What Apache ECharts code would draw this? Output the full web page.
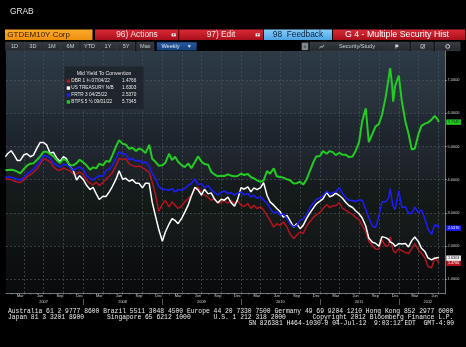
<!DOCTYPE html>
<html><head><meta charset="utf-8">
<script src="https://cdn.jsdelivr.net/npm/echarts@6/dist/echarts.min.js"></script>
<style>html,body{margin:0;padding:0;background:#000;}#c{width:466px;height:347px;}</style>
</head><body><div id="c"></div>
<script>
// ---------------- DATA ----------------
const dates = [
'2007-01-05',
'2007-01-15','2007-02-01','2007-02-15','2007-03-01','2007-03-15','2007-04-01','2007-04-15','2007-05-01','2007-05-15','2007-06-01','2007-06-15','2007-07-01','2007-07-15','2007-08-01','2007-08-15','2007-09-01','2007-09-15','2007-10-01','2007-10-15','2007-11-01','2007-11-15','2007-12-01','2007-12-15','2008-01-01',
'2008-01-15','2008-02-01','2008-02-15','2008-03-01','2008-03-15','2008-04-01','2008-04-15','2008-05-01','2008-05-15','2008-06-01','2008-06-15','2008-07-01','2008-07-15','2008-08-01','2008-08-15','2008-09-01','2008-09-15','2008-10-01','2008-10-15','2008-11-01','2008-11-15','2008-12-01','2008-12-15','2009-01-01',
'2009-01-15','2009-02-01','2009-02-15','2009-03-01','2009-03-15','2009-04-01','2009-04-15','2009-05-01','2009-05-15','2009-06-01','2009-06-15','2009-07-01','2009-07-15','2009-08-01','2009-08-15','2009-09-01','2009-09-15','2009-10-01','2009-10-15','2009-11-01','2009-11-15','2009-12-01','2009-12-15','2010-01-01',
'2010-01-15','2010-02-01','2010-02-15','2010-03-01','2010-03-15','2010-04-01','2010-04-15','2010-05-01','2010-05-15','2010-06-01','2010-06-15','2010-07-01','2010-07-15','2010-08-01','2010-08-15','2010-09-01','2010-09-15','2010-10-01','2010-10-15','2010-11-01','2010-11-15','2010-12-01','2010-12-15','2011-01-01',
'2011-01-15','2011-02-01','2011-02-15','2011-03-01','2011-03-15','2011-04-01','2011-04-15','2011-05-01','2011-05-15','2011-06-01','2011-06-15','2011-07-01','2011-07-15','2011-08-01','2011-08-15','2011-09-01','2011-09-15','2011-10-01','2011-10-15','2011-11-01','2011-11-15','2011-11-22','2011-12-01','2011-12-06','2011-12-15','2012-01-01',
'2012-01-15','2012-02-01','2012-02-15','2012-03-01','2012-03-15','2012-04-01','2012-04-15','2012-05-01','2012-05-15','2012-06-01','2012-06-15','2012-07-01','2012-07-04'
];
const dbr = [4.03,
4.02,4.00,3.96,3.93,3.91,4.00,4.09,4.15,4.22,4.33,4.47,4.64,4.60,4.54,4.39,4.30,4.28,4.35,4.31,4.26,4.16,4.17,4.23,4.15,
3.99,3.89,3.84,3.92,3.82,3.91,4.01,4.11,4.21,4.43,4.64,4.61,4.63,4.47,4.43,4.39,4.41,4.36,4.30,4.22,3.93,3.53,3.04,3.26,
3.37,3.18,3.33,3.23,3.13,3.21,3.33,3.43,3.53,3.72,3.77,3.61,3.53,3.47,3.38,3.42,3.29,3.32,3.36,3.29,3.38,3.28,3.36,3.23,
3.19,3.28,3.13,3.23,3.13,3.18,3.08,2.92,2.77,2.57,2.67,2.62,2.72,2.57,2.37,2.22,2.32,2.42,2.37,2.61,2.73,2.86,2.94,3.01,
3.12,3.25,3.16,3.21,3.21,3.31,3.14,3.07,3.01,2.95,2.86,2.79,2.63,2.42,2.14,2.00,1.91,1.90,2.18,1.99,2.02,2.27,2.00,1.87,1.79,1.91,
1.86,1.80,1.77,1.92,2.07,1.88,1.78,1.64,1.38,1.34,1.64,1.52,1.4766];
const ust = [4.69,
4.78,4.87,4.74,4.58,4.58,4.75,4.78,4.69,4.74,4.96,5.12,5.12,5.05,4.79,4.83,4.64,4.55,4.69,4.63,4.39,4.28,3.99,4.12,4.00,
3.84,3.70,3.77,3.57,3.40,3.50,3.49,3.64,3.80,4.02,4.27,4.01,4.04,3.95,4.00,3.89,3.89,3.75,3.89,3.89,3.32,2.88,2.51,2.14,
2.42,2.66,2.82,2.77,2.67,2.84,3.02,3.24,3.50,3.77,3.69,3.53,3.71,3.57,3.60,3.40,3.30,3.41,3.38,3.47,3.31,3.20,3.39,3.76,
3.71,3.78,3.63,3.75,3.70,3.76,3.91,3.52,3.33,3.23,3.13,3.03,2.87,2.92,2.77,2.57,2.67,2.52,2.62,2.84,2.99,3.14,3.27,3.35,
3.42,3.62,3.48,3.52,3.59,3.52,3.44,3.31,3.22,3.16,3.06,2.97,2.85,2.60,2.24,2.11,2.08,1.99,2.28,2.25,2.20,2.12,2.16,2.07,1.99,2.07,
2.06,2.07,1.97,2.16,2.27,2.13,1.93,1.83,1.64,1.58,1.63,1.65,1.6303];
const frtr = [4.08,
4.08,4.07,4.04,4.01,3.98,4.07,4.17,4.24,4.32,4.44,4.57,4.74,4.70,4.64,4.50,4.43,4.38,4.46,4.45,4.38,4.28,4.34,4.38,4.30,
4.13,4.04,3.98,4.07,4.12,4.10,4.27,4.32,4.43,4.66,4.84,4.77,4.77,4.60,4.63,4.56,4.58,4.51,4.53,4.40,4.19,4.02,3.80,3.70,
3.70,3.68,3.73,3.63,3.70,3.68,3.73,3.83,3.88,4.02,3.85,3.88,3.75,3.82,3.70,3.60,3.54,3.62,3.66,3.58,3.61,3.53,3.59,3.63,
3.54,3.58,3.48,3.53,3.44,3.48,3.38,3.29,3.13,2.99,3.03,2.93,2.98,2.82,2.67,2.57,2.62,2.77,2.81,2.96,3.15,3.29,3.40,3.45,
3.52,3.65,3.57,3.61,3.63,3.76,3.59,3.45,3.38,3.37,3.34,3.39,3.38,3.11,2.85,2.60,2.55,2.90,3.33,3.33,3.45,3.73,3.36,3.18,3.10,3.66,
3.17,3.18,2.98,2.99,3.17,3.00,3.09,2.81,2.51,2.35,2.63,2.61,2.537];
const btps = [4.28,
4.29,4.30,4.28,4.24,4.19,4.32,4.42,4.48,4.49,4.60,4.70,4.84,4.84,4.77,4.71,4.58,4.50,4.63,4.57,4.44,4.43,4.50,4.60,4.52,
4.44,4.30,4.37,4.34,4.48,4.43,4.56,4.54,4.74,5.01,5.19,5.08,5.06,4.93,4.96,4.86,4.94,4.89,4.80,5.05,4.63,4.53,4.42,4.43,
4.51,4.78,4.59,4.69,4.54,4.43,4.38,4.49,4.34,4.53,4.70,4.55,4.47,4.45,4.24,4.15,4.10,4.12,4.11,4.16,4.12,4.10,4.11,4.18,
4.14,4.17,4.08,4.04,3.98,3.93,3.98,4.26,4.18,4.34,4.10,4.08,4.06,4.01,3.98,3.88,3.89,3.94,3.85,4.02,4.26,4.52,4.70,4.71,
4.86,4.78,4.86,4.83,4.74,4.81,4.75,4.75,4.68,4.70,4.86,5.13,5.75,6.15,5.13,5.39,5.60,5.68,5.95,6.48,7.06,7.36,6.85,6.35,6.83,7.14,
6.37,5.74,5.39,4.91,4.93,5.37,5.62,5.69,5.72,5.81,5.92,5.80,5.7345];

const seriesNames = ['DBR 1 \u00BE 07/04/22','US TREASURY N/B','FRTR 3 04/25/22','BTPS 5 \u00BD 09/01/22'];
const lastValues = ['1.4766','1.6303','2.5370','5.7345'];
const legendTitle = 'Mid Yield To Convention';
const yTicks = [1,2,3,4,5,6,7];
const monthNames = ['Jan','Feb','Mar','Apr','May','Jun','Jul','Aug','Sep','Oct','Nov','Dec'];
const yearLabelDates = ['2007-07-01','2008-07-01','2009-07-01','2010-07-01','2011-07-01','2012-05-15'];
const yearSepDates = ['2008-01-01','2009-01-01','2010-01-01','2011-01-01','2012-01-01'];

// ---------------- HELPERS ----------------
function ts(s){const p=s.split('-').map(Number);return new Date(p[0],p[1]-1,p[2]).getTime();}
const xMin = ts('2007-01-08'), xMax = ts('2012-08-02');
const monthTickTs=[], gridLineTs=[], monthLabelTs=[];
for(let y=2007;y<=2012;y++){for(let m=0;m<12;m++){
  const t1=new Date(y,m,1).getTime(), t15=new Date(y,m,15).getTime();
  if(t1>xMin&&t1<xMax){monthTickTs.push(t1); if(m%3===0) gridLineTs.push(t1);}
  if(t15>xMin&&t15<xMax&&m%3===2) monthLabelTs.push(t15);
}}
const colors = ['#b3141f','#ffffff','#1c1cff','#22cc22'];
const widths = [1.5,1.5,1.5,2];
const seriesData = [dbr,ust,frtr,btps];

const chart = echarts.init(document.getElementById('c'),null,{renderer:'canvas'});
const FONT = '"Liberation Sans", Arial, sans-serif';
const gridLine = {color:'#48525c',width:0.7,type:[2,2]};
const option = {
  backgroundColor:'#000',
  animation:false,
  grid:{left:6,right:21,top:51,bottom:54,show:true,borderWidth:0,
    backgroundColor:new echarts.graphic.LinearGradient(0,0,0,1,[
      {offset:0,color:'#2d3b47'},{offset:0.14,color:'#27333d'},{offset:0.32,color:'#1f272f'},
      {offset:0.5,color:'#181d23'},{offset:0.62,color:'#131a17'},{offset:0.78,color:'#0f1213'},{offset:1,color:'#0a0b0d'}])},
  xAxis:[
    {type:'value',min:xMin,max:xMax,position:'bottom',
     axisLine:{show:true,lineStyle:{color:'#8c939b',width:0.8}},
     axisTick:{show:false,customValues:gridLineTs},
     axisLabel:{customValues:monthLabelTs,formatter:v=>monthNames[new Date(v).getMonth()],color:'#d6d6d6',fontSize:3.9,margin:1.2,fontFamily:FONT},
     splitLine:{show:true,lineStyle:gridLine}},
    {type:'value',min:xMin,max:xMax,position:'bottom',
     axisLine:{show:false},axisLabel:{show:false},splitLine:{show:false},
     axisTick:{show:true,customValues:monthTickTs,length:1.5,lineStyle:{color:'#8c939b',width:0.6}}},
    {type:'value',min:xMin,max:xMax,position:'bottom',offset:6,
     axisLine:{show:false},splitLine:{show:false},
     axisTick:{show:true,customValues:yearSepDates.map(ts),length:6,lineStyle:{color:'#8c939b',width:0.6}},
     axisLabel:{customValues:yearLabelDates.map(ts),formatter:v=>String(new Date(v).getFullYear()),color:'#d6d6d6',fontSize:3.9,margin:1,fontFamily:FONT}}
  ],
  yAxis:{type:'value',position:'right',min:0.58,max:7.88,
    axisLine:{show:true,lineStyle:{color:'#8c939b',width:0.8}},
    axisTick:{show:true,customValues:yTicks,length:1.5,lineStyle:{color:'#d0d0d0',width:0.8}},
    axisLabel:{customValues:yTicks,formatter:v=>Number(v).toFixed(4),color:'#d6d6d6',fontSize:3.9,margin:2.6,fontFamily:FONT},
    splitLine:{show:true,lineStyle:gridLine},
    splitArea:{show:true,areaStyle:{color:['rgba(255,255,255,0)','rgba(255,255,255,0.025)']}}},
  series: seriesNames.map((n,i)=>({
    name:n,type:'line',symbol:'none',showSymbol:false,xAxisIndex:0,
    data:dates.map((d,k)=>[ts(d),seriesData[i][k]]),
    lineStyle:{color:colors[i],width:widths[i]},itemStyle:{color:colors[i]},z:2+i
  }))
};
chart.setOption(option);

// ---------------- GRAPHICS (header, legend, footer, badges) ----------------
const G=[];
function rect(x,y,w,h,fill,stroke,z){G.push({type:'rect',silent:true,z:z||1,shape:{x:x,y:y,width:w,height:h},style:{fill:fill,stroke:stroke||null,lineWidth:stroke?0.6:0}});}
function text(x,y,t,o){o=o||{};G.push({type:'text',silent:true,z:o.z||2,x:x,y:y,style:{text:t,fill:o.fill||'#fff',fontSize:o.size||8,fontFamily:o.family||FONT,fontWeight:o.weight||'normal',align:o.align||'left',verticalAlign:'middle'}});}
function grad(a,b){return new echarts.graphic.LinearGradient(0,0,0,1,[{offset:0,color:a},{offset:1,color:b}]);}

text(10,11.3,'GRAB',{size:8.3,fill:'#e6e6e6'});
// row 1
rect(5,29.5,87.5,10.5,grad('#fbaa2a','#ee8f10'));
text(7.3,34.8,'GTDEM10Y Corp',{size:8,fill:'#2e1a02'});
rect(95,29.5,83.5,10.5,grad('#d92a36','#a90f1c'));
text(137,34.8,'96) Actions',{size:8.3,fill:'#ffe6e6',align:'center'});
rect(171.6,33.4,4.2,3,'#f2f2f2'); G.push({type:'polygon',silent:true,z:3,shape:{points:[[172.6,34.2],[174.8,34.2],[173.7,35.8]]},style:{fill:'#333'}});
rect(179.2,29.5,84,10.5,grad('#d92a36','#a90f1c'));
text(221,34.8,'97) Edit',{size:8.3,fill:'#ffe6e6',align:'center'});
rect(255.6,33.4,4.2,3,'#f2f2f2'); G.push({type:'polygon',silent:true,z:3,shape:{points:[[256.6,34.2],[258.8,34.2],[257.7,35.8]]},style:{fill:'#333'}});
rect(264,29.5,68,10.5,grad('#86cdf8','#4ea6e4'));
text(298,34.8,'98  Feedback',{size:8.3,fill:'#0c2142',align:'center'});
rect(333,29.5,132,10.5,grad('#d92a36','#a90f1c'));
text(397,34.8,'G 4 - Multiple Security Hist',{size:8.8,fill:'#ffffff',align:'center'});
// row 2
const navButtons=[['1D',5.7,23.3],['3D',24,41.7],['1M',42.7,61],['6M',61.7,79.3],['YTD',80.7,98.3],['1Y',99.3,116.7],['5Y',117.3,135],['Max',136.7,154]];
navButtons.forEach(b=>{rect(b[1],42.2,b[2]-b[1],8.4,grad('#363b41','#25292e'),'#444a51');text((b[1]+b[2])/2,46.5,b[0],{size:5.6,fill:'#c9cdd2',align:'center'});});
rect(156.7,42.2,40,8.4,grad('#2659a0','#173f7a'));
text(170.5,46.5,'Weekly',{size:5.6,fill:'#dfe9f7',align:'center'});
G.push({type:'polygon',silent:true,z:3,shape:{points:[[187.6,45.2],[191,45.2],[189.3,47.8]]},style:{fill:'#e6eefa'}});
rect(301.7,42.6,6.6,7.6,'#80868d');
text(305,46.4,'\u00AB',{size:5,fill:'#2a2e33',align:'center'});
rect(310,42.2,76.7,8.4,grad('#363b41','#25292e'),'#444a51');
G.push({type:'polyline',silent:true,z:3,shape:{points:[[319.5,48.3],[321,46.3],[322.3,47.4],[324,44.8]]},style:{stroke:'#d0d4d8',lineWidth:0.8,fill:null}});
text(357,46.5,'Security/Study',{size:5.6,fill:'#c9cdd2',align:'center'});
rect(387.7,42.2,21.6,8.4,grad('#363b41','#25292e'),'#444a51');
rect(395.5,44.6,2.8,2.6,'#d0d4d8'); rect(395.5,44.6,0.6,4.2,'#d0d4d8');
rect(411,42.2,22.3,8.4,grad('#363b41','#25292e'),'#444a51');
rect(420.8,44.6,3.6,3.6,null,'#d0d4d8');
G.push({type:'polyline',silent:true,z:3,shape:{points:[[421.4,46.6],[422.4,47.6],[424.8,44.4]]},style:{stroke:'#d0d4d8',lineWidth:0.7,fill:null}});
rect(435,42.2,25,8.4,grad('#363b41','#25292e'),'#444a51');
G.push({type:'circle',silent:true,z:3,shape:{cx:447.7,cy:46.4,r:1.9},style:{fill:null,stroke:'#d0d4d8',lineWidth:1}});

// legend panel
rect(64.5,66.5,79,42.5,'rgba(31,37,44,0.95)',null,10);
text(104,74,legendTitle,{size:5.1,fill:'#e6e6e6',align:'center',z:11});
seriesNames.forEach((n,i)=>{
  const y=81.2+i*6.95;
  rect(66.7,y-1.8,3.4,3.4,colors[i],null,11);
  text(71.3,y,n,{size:4.7,fill:'#e8e8e8',z:11});
  text(122,y,lastValues[i],{size:4.7,fill:'#e8e8e8',z:11});
});

// footer
const MONO='"Liberation Mono","DejaVu Sans Mono",monospace';
text(8,311.2,'Australia 61 2 9777 8600 Brazil 5511 3048 4500 Europe 44 20 7330 7500 Germany 49 69 9204 1210 Hong Kong 852 2977 6000',{size:6.35,family:MONO,fill:'#ececec'});
text(8,317.6,'Japan 81 3 3201 8900      Singapore 65 6212 1000      U.S. 1 212 318 2000       Copyright 2012 Bloomberg Finance L.P.',{size:6.35,family:MONO,fill:'#ececec'});
text(454,323.8,'SN 826381 H464-1030-0 04-Jul-12  9:03:12 EDT  GMT-4:00',{size:6.35,family:MONO,fill:'#ececec',align:'right'});

// last-value badges on the right axis, positioned through the y scale
const badgeText=['#ffffff','#000000','#ffffff','#06300a'];
const badgeFill=['#b3141f','#f4f4f4','#1c1cff','#22cc22'];
lastValues.forEach((v,i)=>{
  const py=chart.convertToPixel({yAxisIndex:0},Number(v));
  rect(446.3,py-2.7,14.6,5.4,badgeFill[i],null,12);
  text(453.6,py,v,{size:3.7,fill:badgeText[i],align:'center',z:13});
});
chart.setOption({graphic:G});
</script></body></html>
